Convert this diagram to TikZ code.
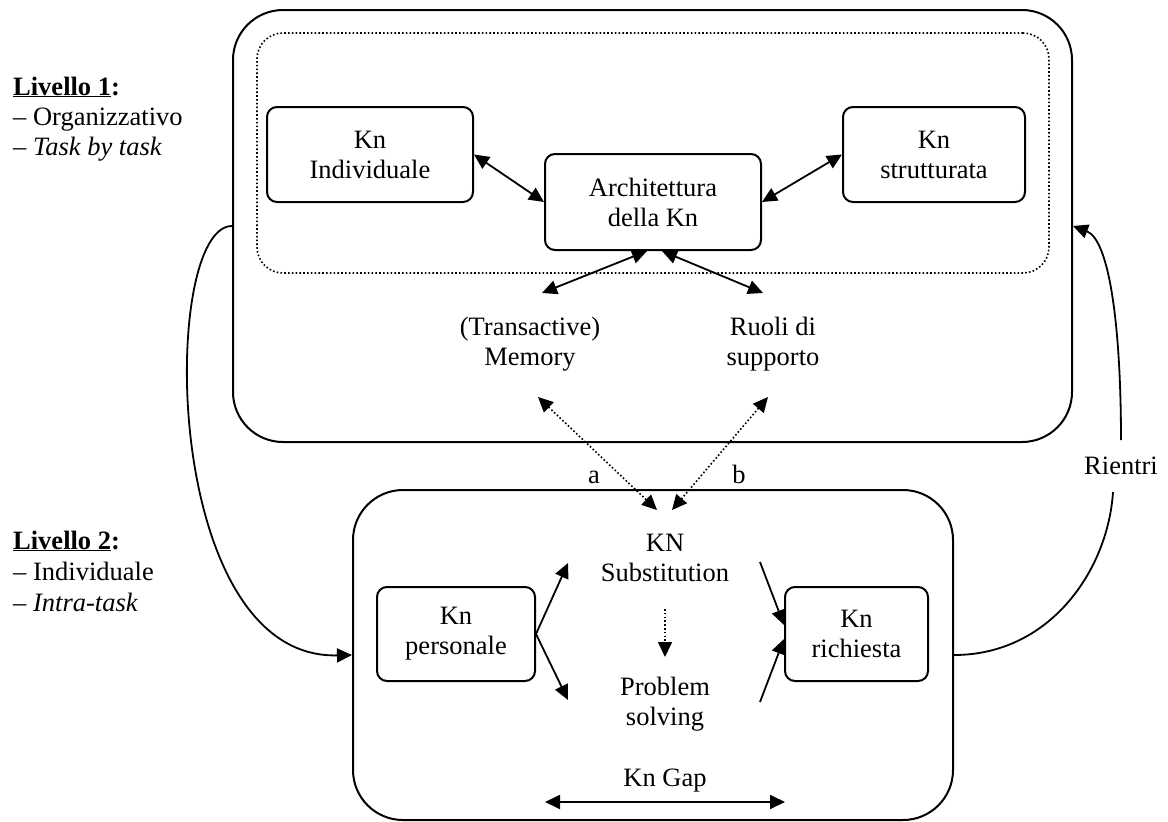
\documentclass[tikz,border=0pt]{standalone}
\usepackage{fontspec}
\setmainfont{Liberation Serif}
\usetikzlibrary{arrows.meta,calc}
\begin{document}
\begin{tikzpicture}[x=1pt,y=-1pt,
  every node/.style={font=\fontsize{26.5}{30}\selectfont},
  frame/.style={draw, line width=2pt, rounded corners=50pt, inner sep=0pt},
  group/.style={draw, line width=1.6pt, dash pattern=on 1.6pt off 2.2pt, rounded corners=26pt, inner sep=0pt},
  kbox/.style={draw, line width=2pt, rounded corners=10pt, align=center, inner sep=0pt},
  lbl/.style={align=center, inner sep=0pt},
  tip/.style={-{Triangle[length=15pt,width=14pt]}, line width=1.8pt},
  both/.style={{Triangle[length=15pt,width=14pt]}-{Triangle[length=15pt,width=14pt]}, line width=1.8pt},
  dots/.style={line width=1.6pt, dash pattern=on 1.6pt off 2.2pt},
  side/.style={anchor=base west, inner sep=0pt}
]
\useasboundingbox (0,0) rectangle (1168,822);

% level frames
\node[frame, minimum width=839pt, minimum height=432pt] (top) at (652.5,226) {};
\node[group, minimum width=792pt, minimum height=240pt] (grp) at (653,153) {};
\node[frame, minimum width=600pt, minimum height=330pt] (bot) at (653,655) {};

% level 1
\node[kbox, minimum width=206pt, minimum height=95pt] (ind) at (370,154.5) {Kn\\Individuale};
\node[kbox, minimum width=216pt, minimum height=96pt] (arch) at (653,202) {Architettura\\della Kn};
\node[kbox, minimum width=182pt, minimum height=95pt] (str) at (934,154.5) {Kn\\strutturata};
\node[lbl] (mem) at (530,344) {(Transactive)\\Memory};
\node[lbl] (ruo) at (773,344) {Ruoli di\\supporto};

% level 2
\node[kbox, minimum width=158pt, minimum height=94pt] (pers) at (456,634) {Kn\\personale};
\node[kbox, minimum width=143pt, minimum height=94pt] (rich) at (856.5,634) {Kn\\richiesta};
\node[lbl] (sub) at (665,558) {KN\\Substitution};
\node[lbl] (prob) at (665,704) {Problem\\solving};
\node[lbl] (gap) at (665,781) {Kn Gap};

% link labels
\node[lbl] (la) at (594,477) {a};
\node[lbl] (lb) at (739,474) {b};
\node[lbl] (rin) at (1121,466) {Rientri};

% level captions
\node[side] (l1) at (13,95) {\textbf{\underline{Livello 1}:}};
\node[side] (l1a) at (13,125) {– Organizzativo};
\node[side] (l1b) at (13,155) {– \textit{Task by task}};
\node[side] (l2) at (13,549) {\textbf{\underline{Livello 2}:}};
\node[side] (l2a) at (13,580) {– Individuale};
\node[side] (l2b) at (13,611) {– \textit{Intra-task}};

% connectors, level 1
\draw[both] (ind.east) -- (arch.west);
\draw[both] (arch.east) -- (str.west);
\draw[both] ($(arch.south)+(-6,0)$) -- ($(mem)+(12,-51)$);
\draw[both] ($(arch.south)+(9,0)$) -- ($(ruo)+(-10,-51)$);

% links between the levels
\draw[both, dots] ($(mem)+(8,53)$) -- ($(sub)+(-8,-48)$);
\draw[both, dots] ($(ruo)+(-5,53)$) -- ($(sub)+(7,-48)$);

% connectors, level 2
\draw[tip, dots] ($(sub)+(0,51)$) -- ($(prob)+(0,-47)$);
\draw[tip] (pers.east) -- ($(sub)+(-97,5)$);
\draw[tip] (pers.east) -- ($(prob)+(-97,-4)$);
\draw[tip] ($(sub)+(95,4)$) -- ($(rich.west)+(0,-9)$);
\draw[tip] ($(prob)+(95,-2)$) -- ($(rich.west)+(0,5)$);
\draw[both] ($(gap)+(-120,21)$) -- ($(gap)+(120,21)$);

% feedback loops
\draw[tip] (top.west) .. controls (160,226) and (160,660) .. (bot.west);
\draw[line width=1.8pt] (bot.east) .. controls (1050,655) and (1108,570) .. ($(rin)+(-8,26)$);
\draw[tip] ($(rin)+(0,-26)$) .. controls (1121,330) and (1110,240) .. (top.east);
\end{tikzpicture}
\end{document}
